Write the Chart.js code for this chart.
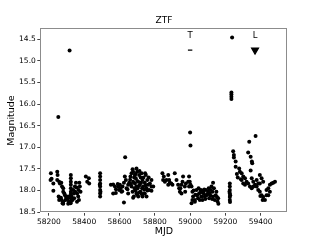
<!DOCTYPE html>
<html>
<head>
<meta charset="utf-8">
<script src="https://cdn.jsdelivr.net/npm/chart.js@4/dist/chart.umd.min.js"></script>
<style>
html,body{margin:0;padding:0;background:#fff;}
#wrap{width:320px;height:240px;}
</style>
</head>
<body>
<div id="wrap"><canvas id="c" width="320" height="240"></canvas></div>
<script>
// ---- data ----
const chartTitle = "ZTF";
const xTitle = "MJD";
const yTitle = "Magnitude";
const xTicks = [58200, 58400, 58600, 58800, 59000, 59200, 59400];
const yTicks = [14.5, 15.0, 15.5, 16.0, 16.5, 17.0, 17.5, 18.0, 18.5];

const mjd = [
 58211,58215,58209,58225,58225,58247,58249,58247,58258,58262,58270,58255,58262,58258,58268,58272,58281,58277,58281,58287,
 58291,58296,58294,58300,58306,58309,58313,58274,58281,58324,58324,58324,58324,58324,58324,58324,58324,58324,58325,58328,
 58334,58338,58342,58343,58347,58349,58353,58357,58360,58366,58368,58372,58375,58379,58370,58359,58409,58417,58428,58426,
 58281,58309,58323,58317,58253,
 58490,58490,58490,58490,58490,58490,58490,58490,58488,58492,
 58551,58564,58574,58564,58579,58593,58598,58602,58611,58617,58625,58630,58636,58625,58632,58640,58649,58649,58655,58662,
 58668,58674,58677,58668,58674,58677,58687,58696,58700,58692,58687,58696,58706,58711,58715,58719,58706,58696,58681,58677,
 58725,58730,58734,58738,58743,58749,58753,58757,58762,58768,58772,58781,58753,58743,58730,58725,58781,58791,58781,
 58660,58665,58683,58690,58700,58703,58710,58713,58720,58722,58728,58735,58740,58745,58748,58758,58765,58710,58700,58690,
 58685,58645,58615,58605,58590,58580,
 58843,58847,58851,58857,58866,58876,58881,58885,58893,58900,58876,58913,58923,58932,58938,58942,58951,58945,58957,58960,
 58951,58970,58976,58972,58989,58994,58994,
 58998,59002,59008,59013,59017,59027,59013,59036,59040,59045,59051,59055,59060,59064,59070,59074,59077,59083,59089,59093,
 59102,59108,59111,59117,59121,59127,59130,59130,59140,59145,59149,59155,59160,59159,59008,59027,59000,59002,
 59020,59030,59048,59058,59066,59080,59086,59098,59105,59114,59125,59135,59152,
 59225,59225,59225,59225,59225,59225,59226,59223,59227,
 59238,59234,59234,59234,59234,
 59371,59335,59244,59329,59248,59248,59343,59350,59352,59258,59258,59278,59282,59292,59343,59301,59311,59292,59320,59395,
 59405,59414,59395,59349,59358,59368,59377,59358,59329,59339,59349,59386,59395,59405,59414,59424,59411,59433,59443,59452,
 59462,59471,59481,59452,59443,59433,59377,59386,59301,59311,59398,59265,59270,59288
];
const mag = [
 17.60,17.73,17.76,17.84,18.01,17.57,17.64,17.76,17.80,17.84,17.82,18.14,18.18,18.22,18.17,18.22,18.26,18.30,18.03,18.07,
 18.11,18.14,18.22,18.18,18.20,18.14,18.26,17.91,17.95,17.64,17.72,17.80,17.87,17.95,18.03,18.11,18.18,18.26,18.07,18.14,
 18.22,17.99,18.07,18.18,17.91,18.03,17.82,17.93,18.07,18.14,17.99,17.82,17.91,18.03,18.22,18.26,17.68,17.80,17.84,17.72,
 18.31,18.31,18.30,14.76,16.30,
 17.60,17.68,17.76,17.84,17.91,17.99,18.07,18.14,17.87,18.03,
 17.87,17.86,17.91,18.07,18.06,17.91,17.99,17.87,18.03,17.91,17.82,17.68,17.76,18.28,17.23,17.95,17.87,18.07,17.82,17.68,
 17.91,18.03,17.80,17.60,17.51,17.57,17.64,17.49,17.57,17.72,17.84,17.91,17.80,17.64,17.87,18.03,18.14,18.07,18.14,18.17,
 17.60,17.76,17.91,18.07,17.82,17.64,17.95,17.76,17.87,17.99,17.84,17.91,18.14,18.07,18.14,18.08,17.76,17.91,18.01,
 17.75,17.85,17.70,17.62,17.78,17.95,17.90,17.55,17.70,17.82,17.95,17.70,17.98,17.60,17.88,18.00,17.70,18.05,18.10,18.00,
 17.95,17.97,18.02,17.95,17.85,17.97,
 17.60,17.76,17.68,17.80,17.76,17.64,17.76,17.82,17.84,17.87,17.87,17.60,17.76,17.87,17.95,18.03,18.07,17.95,17.80,17.68,
 17.87,17.91,17.84,18.03,17.80,17.91,17.68,
 17.80,17.87,17.91,18.03,18.14,18.22,18.22,17.99,18.11,18.18,18.07,18.22,17.99,18.14,18.22,18.03,18.07,18.14,17.99,18.11,
 18.03,18.18,18.07,17.99,17.91,18.03,17.82,18.14,18.22,18.11,18.03,18.25,18.31,18.18,18.30,18.26,16.66,16.96,
 18.00,18.10,17.95,18.05,18.00,17.98,18.20,18.08,17.95,18.12,18.20,17.95,18.15,
 17.84,17.91,17.99,18.07,18.15,18.22,18.27,18.03,18.11,
 14.46,15.73,15.78,15.83,15.88,
 16.74,16.87,17.09,17.12,17.18,17.24,17.22,17.33,17.37,17.33,17.45,17.49,17.57,17.60,17.54,17.68,17.72,17.76,17.80,17.64,
 17.72,17.80,17.84,17.72,17.80,17.87,17.91,17.91,17.84,17.91,17.95,17.99,18.03,18.11,18.15,18.22,18.22,17.99,17.95,17.87,
 17.84,17.82,17.80,18.03,18.11,18.11,17.76,17.84,17.84,17.87,18.13,17.62,17.70,17.74
];

// event markers
const eventLabels = ["T", "L"];
const eventMJD = [59000, 59368];
const eventMarkMag = [14.75, 14.75];
const eventTextMag = [14.43, 14.43];
const eventStyles = ["line", "triangle"];

// ---- chart ----
const pts = mjd.map((x, i) => ({x: x, y: mag[i]}));
const evPts = eventMJD.map((x, i) => ({x: x, y: eventMarkMag[i]}));

const FONT = "'DejaVu Sans', sans-serif";

const overlay = {
  id: 'overlay',
  afterDraw(chart) {
    const ctx = chart.ctx;
    const a = chart.chartArea;
    const xs = chart.scales.x, ys = chart.scales.y;
    ctx.save();
    ctx.strokeStyle = '#8c8c8c';
    ctx.lineWidth = 1;
    ctx.strokeRect(Math.round(a.left) + 0.5, Math.round(a.top) + 0.5,
                   Math.round(a.right - a.left) - 1, Math.round(a.bottom - a.top) - 1);
    ctx.fillStyle = '#000';
    ctx.font = "9px " + FONT;
    ctx.textAlign = 'center';
    ctx.textBaseline = 'middle';
    ctx.fillText(chartTitle, (a.left + a.right) / 2, 21);
    ctx.font = "8.5px " + FONT;
    eventLabels.forEach((t, i) => {
      ctx.fillText(t, xs.getPixelForValue(eventMJD[i]), ys.getPixelForValue(eventTextMag[i]));
    });
    ctx.restore();
  }
};

new Chart(document.getElementById('c'), {
  type: 'scatter',
  data: {
    datasets: [
      {
        data: pts,
        backgroundColor: '#000',
        borderWidth: 0,
        pointRadius: 2.0,
        pointHoverRadius: 2.0
      },
      {
        data: evPts,
        backgroundColor: '#000',
        borderColor: '#000',
        borderWidth: 1.2,
        pointStyle: eventStyles,
        pointRadius: [2.2, 4.0],
        rotation: [0, 180]
      }
    ]
  },
  plugins: [overlay],
  options: {
    responsive: false,
    animation: false,
    devicePixelRatio: 1,
    layout: {padding: {left: 0, right: 32.3, top: 28.3, bottom: 0}},
    plugins: {legend: {display: false}, tooltip: {enabled: false}, title: {display: false}},
    scales: {
      x: {
        type: 'linear',
        min: 58151, max: 59553,
        afterBuildTicks: s => { s.ticks = xTicks.map(v => ({value: v})); },
        afterFit: s => { s.height = 27.3; },
        grid: {display: true, drawOnChartArea: false, drawTicks: true, tickLength: 3, color: '#444'},
        border: {display: false},
        ticks: {color: '#000', font: {family: FONT, size: 7.5}, padding: 1.5, maxRotation: 0,
                callback: v => String(v)},
        title: {display: true, text: xTitle, color: '#000', font: {family: FONT, size: 9.5}, padding: {top: 0, bottom: 3.2}}
      },
      y: {
        type: 'linear',
        reverse: true,
        min: 14.245, max: 18.516,
        afterBuildTicks: s => { s.ticks = yTicks.map(v => ({value: v})); },
        afterFit: s => { s.width = 40.3; },
        grid: {display: true, drawOnChartArea: false, drawTicks: true, tickLength: 3, color: '#444'},
        border: {display: false},
        ticks: {color: '#000', font: {family: FONT, size: 7.5}, padding: 1.5,
                callback: v => Number(v).toFixed(1)},
        title: {display: true, text: yTitle, color: '#000', font: {family: FONT, size: 9.5}, padding: {top: 6.2, bottom: 0}}
      }
    }
  }
});
</script>
</body>
</html>
